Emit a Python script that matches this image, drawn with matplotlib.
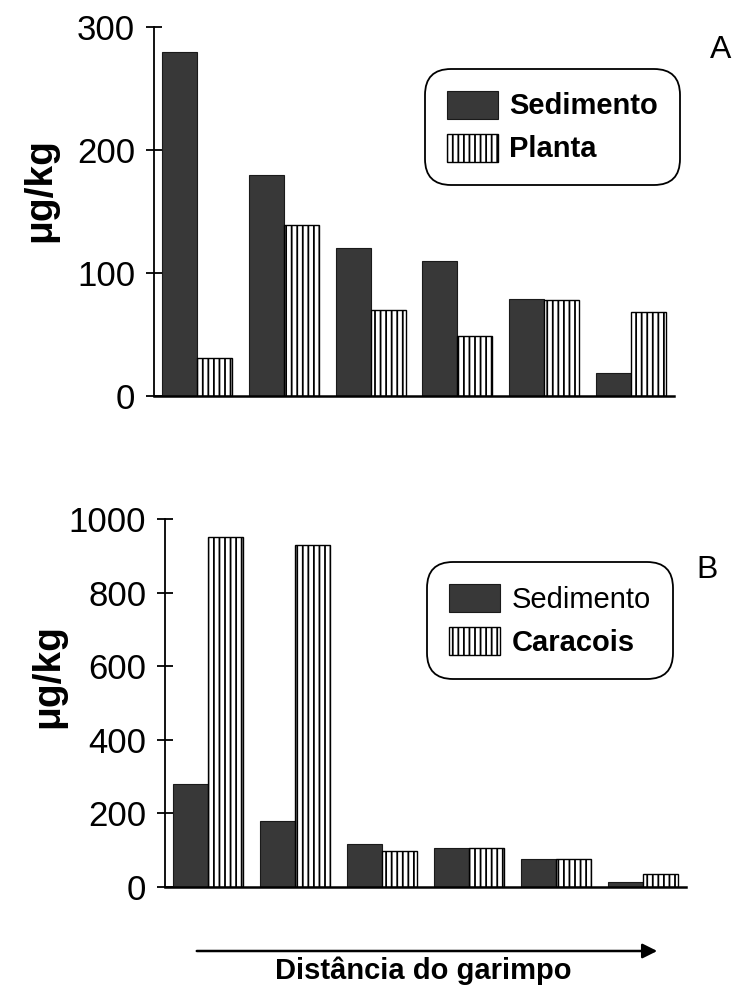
import matplotlib
matplotlib.use("Agg")
import matplotlib.pyplot as plt
import numpy as np

# ---- data ----
groups = [1, 2, 3, 4, 5, 6]
sed_a = [280, 180, 120, 110, 79, 19]
planta_a = [31, 139, 70, 49, 78, 68]
sed_b = [281, 178, 118, 107, 77, 14]
caracois_b = [950, 929, 99, 107, 76, 34]
yticks_a = [0, 100, 200, 300]
yticks_b = [0, 200, 400, 600, 800, 1000]
ylabel = "μg/kg"
xlabel = "Distância do garimpo"

plt.rcParams['font.family'] = ['Liberation Sans', 'DejaVu Sans']
plt.rcParams['hatch.linewidth'] = 1.3

W, H = 732, 988
fig = plt.figure(figsize=(W / 100, H / 100), dpi=100)

DARK = '#383838'
bw = 0.403


def fx(px):
    return px / W


def fy(py):
    return 1 - py / H


def panel(rect, sed, other, yticks, ylim, other_label, bold_sed, bold_other,
          leg_rect, letter, letter_pos):
    ax = fig.add_axes(rect)
    x = np.arange(len(groups))
    b1 = ax.bar(x - bw / 2, sed, width=bw, color=DARK, edgecolor='#1a1a1a',
                linewidth=0.8, label='Sedimento')
    b2 = ax.bar(x + bw / 2, other, width=bw, color='white', edgecolor='black',
                linewidth=1.0, hatch='|||', label=other_label)
    ax.set_xlim(-0.5, 5.5)
    ax.set_ylim(*ylim)
    ax.set_yticks(yticks)
    ax.set_yticklabels([str(t) for t in yticks], fontsize=25,
                       fontweight='light')
    ax.set_xticks([])
    for s in ['top', 'right']:
        ax.spines[s].set_visible(False)
    ax.spines['left'].set_linewidth(1.3)
    ax.spines['bottom'].set_linewidth(1.8)
    ax.tick_params(axis='y', direction='inout', length=11, width=1.3, pad=8)
    leg = ax.legend(handles=[b1, b2], loc='center',
                    bbox_to_anchor=leg_rect, bbox_transform=fig.transFigure,
                    fontsize=21, frameon=True, fancybox=True,
                    handlelength=1.75, handleheight=1.1, handletextpad=0.4,
                    borderpad=0.45, labelspacing=0.45, edgecolor='black',
                    framealpha=1)
    leg.get_frame().set_linewidth(1.3)
    leg.get_frame().set_boxstyle('round', pad=0.3, rounding_size=0.9)
    texts = leg.get_texts()
    texts[0].set_fontweight('bold' if bold_sed else 'normal')
    texts[1].set_fontweight('bold' if bold_other else 'normal')
    fig.text(fx(letter_pos[0]), fy(letter_pos[1]), letter, fontsize=23,
             ha='center', va='center', fontweight='light')
    return ax


# Panel A
axA = panel([fx(154), fy(396), fx(674) - fx(154), fy(27) - fy(396)],
            sed_a, planta_a, yticks_a, (0, 300), 'Planta', True, True,
            (fx(421), fy(182), fx(684) - fx(421), fy(72) - fy(182)),
            'A', (721, 50))
# Panel B
axB = panel([fx(165), fy(887), fx(686) - fx(165), fy(519) - fy(887)],
            sed_b, caracois_b, yticks_b, (0, 1000), 'Caracois', False, True,
            (fx(416), fy(673), fx(684) - fx(416), fy(568) - fy(673)),
            'B', (707, 570))

fig.text(fx(40), fy(190), ylabel, rotation=90, fontsize=28, fontweight='bold',
         ha='center', va='center')
fig.text(fx(48), fy(676), ylabel, rotation=90, fontsize=28, fontweight='bold',
         ha='center', va='center')

fig.add_artist(matplotlib.patches.FancyArrowPatch(
    (fx(194), fy(951)), (fx(660), fy(951)), transform=fig.transFigure,
    arrowstyle='-|>', mutation_scale=22, linewidth=1.8, color='black'))
fig.text(fx(423), fy(971), xlabel, fontsize=21, fontweight='bold',
         ha='center', va='center')

fig.savefig('out.png', dpi=100)
